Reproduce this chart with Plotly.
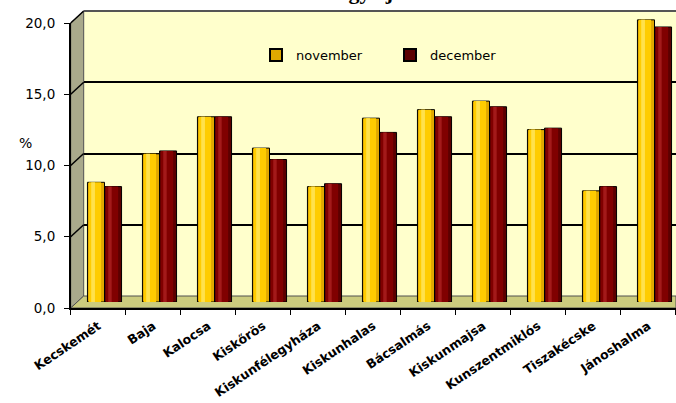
import plotly.graph_objects as go

# ---- data ----
categories = ["Kecskemét", "Baja", "Kalocsa", "Kiskőrös", "Kiskunfélegyháza",
              "Kiskunhalas", "Bácsalmás", "Kiskunmajsa", "Kunszentmiklós",
              "Tiszakécske", "Jánoshalma"]
november = [8.4, 10.4, 13.0, 10.8, 8.1, 12.9, 13.5, 14.1, 12.1, 7.8, 19.8]
december = [8.1, 10.6, 13.0, 10.0, 8.3, 11.9, 13.0, 13.7, 12.2, 8.1, 19.3]
y_ticks = [0, 5, 10, 15, 20]
series_names = ["november", "december"]
title_text = "Bács-Kiskun megye járásaiban"

# ---- geometry (pixels) ----
W, H = 676, 403
def px(x): return x / W
def py(y): return 1 - y / H

CAT_PX = 55.0
XF, Y0F, Y20F = 70.7, 308.0, 23.0          # front plane
DX, DY = 13.0, -12.0                        # depth offset
XB, Y0B, Y20B = XF + DX, Y0F + DY, Y20F + DY  # back plane
XM, Y0M, Y20M = XF + 6.3, Y0F - 6.0, Y20F - 6.0  # mid plane (bars)
SCALE = (Y0F - Y20F) / 20.0

FONT = "DejaVu Sans"
BW = 0.31  # cylinder width in category units

# cylinder shading layers: (color, offset inside cylinder, width fraction)
NOV_LAYERS = [("#E0A800", 0.00, 1.00), ("#FFCC00", 0.08, 0.72), ("#FFE14D", 0.22, 0.22)]
DEC_LAYERS = [("#5C0000", 0.00, 1.00), ("#800000", 0.08, 0.72), ("#A31A1A", 0.22, 0.20)]

fig = go.Figure()

# back plane subplot (x, y) : gridlines only
fig.add_trace(go.Scatter(x=categories, y=[None] * len(categories), xaxis="x", yaxis="y",
                         mode="markers", showlegend=False, hoverinfo="skip"))

# bars (x2, y2)
for name, vals, layers, base_off in ((series_names[0], november, NOV_LAYERS, -BW),
                                     (series_names[1], december, DEC_LAYERS, 0.0)):
    for i, (col, off, wf) in enumerate(layers):
        first = i == 0
        fig.add_trace(go.Bar(
            name=name, x=categories, y=vals, xaxis="x2", yaxis="y2",
            offset=base_off + off * BW, width=BW * wf,
            marker=dict(color=col,
                        line=dict(color="#000000", width=1) if first else dict(width=0)),
            showlegend=first, legendgroup=name))

# front axes (x3, y3)
fig.add_trace(go.Scatter(x=categories, y=november, xaxis="x3", yaxis="y3",
                         mode="markers", marker=dict(opacity=0), showlegend=False,
                         hoverinfo="skip"))

shapes = []
# back wall
shapes.append(dict(type="rect", xref="paper", yref="paper", layer="below",
                   x0=px(XB), x1=1.0, y0=py(Y0B), y1=py(Y20B),
                   fillcolor="#FFFFCC", line=dict(width=0)))
# left wall
shapes.append(dict(type="path", xref="paper", yref="paper", layer="below",
                   path=f"M {px(XF)},{py(Y0F)} L {px(XF)},{py(Y20F)} L {px(XB)},{py(Y20B)} L {px(XB)},{py(Y0B)} Z",
                   fillcolor="#A9A98B", line=dict(color="#505050", width=1)))
# floor
shapes.append(dict(type="path", xref="paper", yref="paper", layer="below",
                   path=f"M {px(XF)},{py(Y0F)} L {px(XB)},{py(Y0B)} L 1.0,{py(Y0B)} L 1.0,{py(Y0F)} Z",
                   fillcolor="#CCCC7E", line=dict(color="#505050", width=1)))
# left wall gridlines (diagonals)
for v in y_ticks[1:]:
    shapes.append(dict(type="line", xref="paper", yref="paper", layer="below",
                       x0=px(XF), y0=py(Y0F - SCALE * v), x1=px(XB), y1=py(Y0B - SCALE * v),
                       line=dict(color="#000000", width=1.5)))
# top edge of back wall
shapes.append(dict(type="line", xref="paper", yref="paper", layer="above",
                   x0=px(XB), y0=py(Y20B), x1=1.0, y1=py(Y20B),
                   line=dict(color="#555555", width=2)))

fig.update_layout(
    width=W, height=H,
    margin=dict(l=0, r=0, t=0, b=0, autoexpand=False),
    paper_bgcolor="#FFFFFF",
    plot_bgcolor="rgba(0,0,0,0)",
    separators=",.",
    barmode="overlay",
    font=dict(family=FONT, size=13, color="#000000"),
    shapes=shapes,
    showlegend=True,
    legend=dict(orientation="h", x=px(256), y=py(40), xanchor="left", yanchor="top",
                bgcolor="rgba(0,0,0,0)", font=dict(family=FONT, size=13),
                entrywidth=89, entrywidthmode="pixels", itemsizing="constant"),
    xaxis=dict(domain=[px(XB), 1.0], type="category", range=[-0.5, -0.5 + (W - XB) / CAT_PX],
               showgrid=False, showticklabels=False, showline=False, zeroline=False, ticks="",
               automargin=False),
    yaxis=dict(domain=[py(Y0B), py(Y20B)], range=[0, 20], tickvals=y_ticks,
               showgrid=True, gridcolor="#000000", gridwidth=1.5, zeroline=False,
               showticklabels=False, ticks="", showline=False, automargin=False),
    xaxis2=dict(domain=[px(XM), 1.0], type="category", range=[-0.5, -0.5 + (W - XM) / CAT_PX],
                showgrid=False, showticklabels=False, showline=False, zeroline=False,
                ticks="", anchor="y2", automargin=False),
    yaxis2=dict(domain=[py(Y0M), py(Y20M)], range=[0, 20], showgrid=False, zeroline=False,
                showticklabels=False, ticks="", showline=False, anchor="x2", automargin=False),
    xaxis3=dict(domain=[px(XF), 1.0], type="category", range=[-0.5, -0.5 + (W - XF) / CAT_PX],
                showgrid=False, zeroline=False, showline=True, linecolor="#000000", linewidth=2,
                ticks="outside", tickson="boundaries", ticklen=5, tickcolor="#000000",
                ticklabelstandoff=4,
                tickangle=-34, tickfont=dict(family=FONT, size=12.5, color="#000000", weight="bold"),
                anchor="y3", automargin=False),
    yaxis3=dict(domain=[py(Y0F), py(Y20F)], range=[0, 20], tickvals=y_ticks,
                tickformat=".1f", showgrid=False, zeroline=False, showline=True,
                linecolor="#000000", linewidth=1.5, ticks="outside", ticklen=5,
                ticklabelstandoff=6,
                tickcolor="#000000", tickfont=dict(family=FONT, size=13.5), anchor="x3",
                automargin=False),
    annotations=[
        dict(text="%", xref="paper", yref="paper", x=px(17), y=py(133), showarrow=False,
             font=dict(family=FONT, size=14)),
        dict(text=title_text, xref="paper", yref="paper", x=px(340), y=py(6.5),
             xanchor="center", yanchor="bottom", showarrow=False,
             font=dict(family="Liberation Serif", size=22, weight="bold")),
    ],
)

fig.write_html("out.html", config={"displayModeBar": False},
               post_script="document.body.style.margin='0';")
